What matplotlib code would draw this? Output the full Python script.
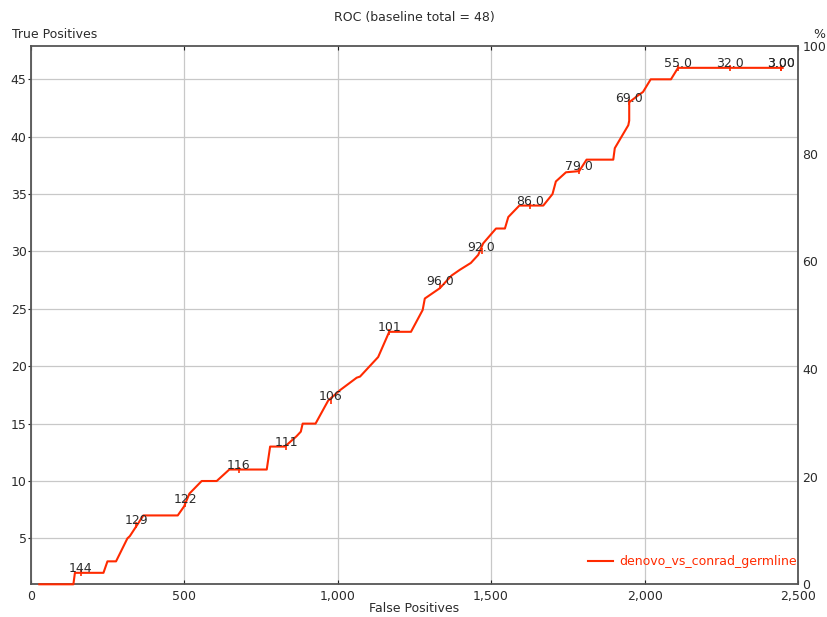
import matplotlib
matplotlib.use("Agg")
import matplotlib.pyplot as plt
from matplotlib.lines import Line2D

# ---- data ----
fp = [28, 139, 144, 237, 250, 278, 315, 323, 367, 479, 500, 517, 557, 606, 647,
      769, 780, 828, 866, 880, 886, 928, 969, 1007, 1062, 1073, 1132, 1168, 1239,
      1277, 1284, 1333, 1371, 1398, 1434, 1458, 1474, 1516, 1545, 1556, 1592, 1670,
      1700, 1711, 1744, 1787, 1811, 1898, 1903, 1947, 1950, 1950, 1979, 1995, 2020,
      2086, 2109, 2450]
tp = [1, 1, 2, 2, 3, 3, 5, 5.2, 7, 7, 7.8, 8.9, 10, 10, 11,
      11, 13, 13, 13.9, 14.3, 15, 15, 17, 17.9, 19, 19.1, 20.8, 23, 23,
      24.9, 25.9, 26.8, 27.9, 28.4, 29, 29.7, 30.7, 32, 32, 33, 34, 34,
      35, 36.1, 36.9, 37, 38, 38, 39, 41, 41.4, 43, 43.6, 43.9, 45,
      45, 46, 46]

thr_labels = ['144', '129', '122', '116', '111', '106', '101', '96.0', '92.0',
              '86.0', '79.0', '69.0', '55.0', '32.0', '3.00', '3.00']
thr_fp = [163, 343, 503, 678, 832, 977, 1168, 1333, 1469, 1627, 1787, 1950,
          2108, 2278, 2444, 2446]
thr_tp = [2, 6.2, 8, 11, 13, 17, 23, 27, 30, 34, 37, 43, 46, 46, 46, 46]

series_name = 'denovo_vs_conrad_germline'
title = 'ROC (baseline total = 48)'
x_ticks = [0, 500, 1000, 1500, 2000, 2500]
x_ticklabels = ['0', '500', '1,000', '1,500', '2,000', '2,500']
y_ticks = [5, 10, 15, 20, 25, 30, 35, 40, 45]
pct_ticks = [0, 20, 40, 60, 80, 100]

# ---- style ----
RED = '#ff2a00'
TXT = '#2b2b2b'
SPINE = '#555555'
FS = 9

fig = plt.figure(figsize=(8.28, 6.17), dpi=100)
ax = fig.add_axes([0.0371, 0.0530, 0.9267, 0.8724])

ax2 = ax.twinx()
ax2.set_ylim(0, 100)
ax2.set_yticks(pct_ticks)
ax2.tick_params(axis='y', length=0, pad=3, labelsize=FS, colors=TXT)
for s in ax2.spines.values():
    s.set_visible(False)
ax.set_zorder(ax2.get_zorder() + 1)
ax.patch.set_visible(False)

ax.plot(fp, tp, color=RED, lw=1.5, zorder=3, clip_on=False)
ax.plot(thr_fp, thr_tp, ls='none', marker='|', ms=4, mew=1.2, color=RED, zorder=3,
        clip_on=False)
for lab, x, y in zip(thr_labels, thr_fp, thr_tp):
    ax.annotate(lab, (x, y), xytext=(0, 0.5), textcoords='offset points',
                ha='center', va='baseline', fontsize=FS, color=TXT, zorder=4)

ax.set_xlim(0, 2500)
ax.set_ylim(1, 47.9)
ax.set_xticks(x_ticks)
ax.set_xticklabels(x_ticklabels)
ax.set_yticks(y_ticks)
ax.grid(True, color='#c8c8c8', lw=0.9)
ax.set_axisbelow(True)
for s in ax.spines.values():
    s.set_color(SPINE)
    s.set_linewidth(1.3)
ax.tick_params(axis='x', direction='in', length=3, top=True, pad=4,
               labelsize=FS, colors=TXT, color='#222222')
ax.tick_params(axis='y', direction='out', length=2, pad=1,
               labelsize=FS, colors=TXT, color='#222222')

fig.text(0.5, 1 - 18 / 617, title, ha='center', va='center', fontsize=FS, color=TXT)
fig.text(12 / 828, 1 - 34 / 617, 'True Positives', ha='left', va='center', fontsize=FS, color=TXT)
fig.text(825 / 828, 1 - 34 / 617, '%', ha='right', va='center', fontsize=FS, color=TXT)
fig.text(0.5, 1 - 609 / 617, 'False Positives', ha='center', va='center', fontsize=FS, color=TXT)

handle = Line2D([], [], color=RED, lw=1.5)
leg = ax.legend([handle], [series_name], loc='center right', frameon=False,
                fontsize=FS, handlelength=2.0, handletextpad=0.5,
                borderaxespad=0, borderpad=0,
                bbox_to_anchor=(797 / 828, 1 - 562 / 617),
                bbox_transform=fig.transFigure, labelcolor=RED)

fig.savefig('out.png', dpi=100)
